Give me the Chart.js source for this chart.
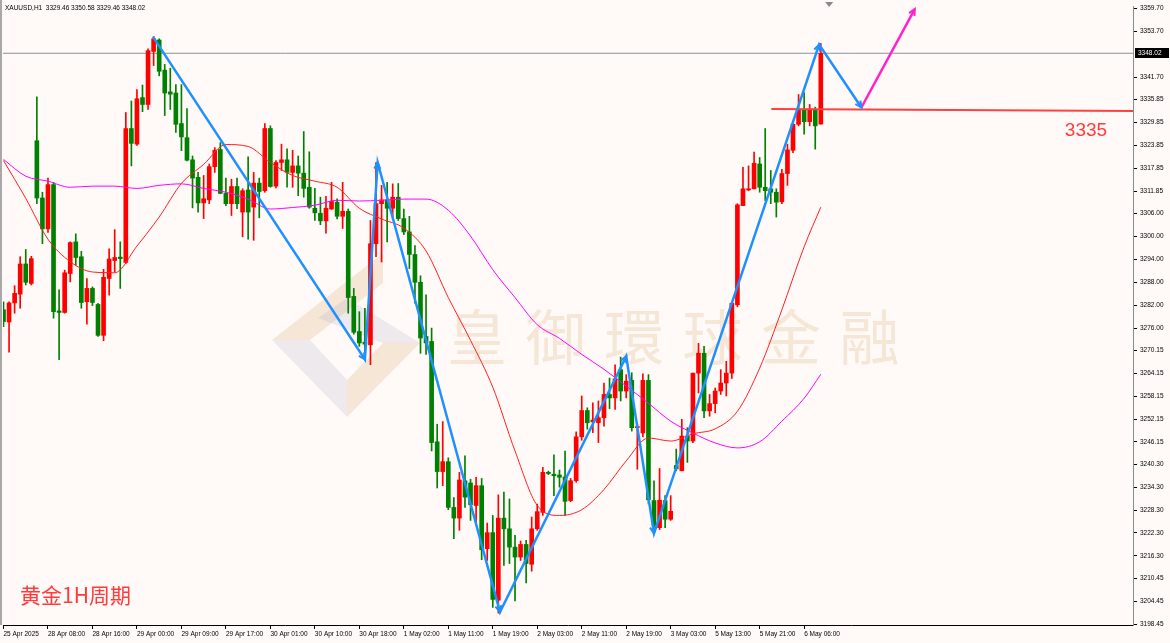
<!DOCTYPE html>
<html>
<head>
<meta charset="utf-8">
<script src="https://cdn.jsdelivr.net/npm/chart.js@4.4.1/dist/chart.umd.min.js"></script>
<style>
  html, body { margin: 0; padding: 0; background: #fffaf8; }
  #wrap { width: 1170px; height: 643px; }
</style>
</head>
<body>
<div id="wrap"><canvas id="xau_chart" width="1170" height="643"></canvas></div>
<script>
// XAUUSD H1, 25 Apr 2025 - 6 May 2025 (red = up bar, green = down bar)
var openP = [
  3280.8, 3277.6, 3282.6, 3284.9, 3292.8, 3287.7, 3325.1, 3310.1, 3302.0, 3313.6,
  3280.5, 3280.1, 3290.3, 3298.6, 3294.7, 3282.9, 3286.4, 3282.2, 3274.1, 3289.0,
  3293.7, 3294.6, 3293.2, 3328.3, 3324.2, 3336.4, 3334.6, 3348.5, 3351.5, 3343.6,
  3337.9, 3337.6, 3329.6, 3325.9, 3320.1, 3315.5, 3308.8, 3309.6, 3318.3, 3322.8,
  3311.3, 3308.6, 3313.1, 3306.4, 3312.2, 3307.7, 3314.0, 3312.0, 3328.3, 3313.2,
  3319.4, 3320.1, 3316.8, 3318.5, 3316.6, 3312.9, 3307.4, 3306.1, 3304.1, 3307.2,
  3309.0, 3305.3, 3306.6, 3284.3, 3275.1, 3272.3, 3271.6, 3298.1, 3308.6, 3309.6,
  3307.4, 3310.3, 3304.7, 3301.2, 3295.3, 3288.0, 3273.8, 3272.5, 3246.2, 3238.4,
  3241.0, 3229.0, 3226.2, 3236.0, 3235.4, 3229.5, 3234.7, 3218.2, 3222.4, 3204.7,
  3226.2, 3223.4, 3218.6, 3216.0, 3219.3, 3214.1, 3223.4, 3227.7, 3238.2, 3237.7,
  3237.5, 3237.0, 3230.8, 3236.0, 3247.5, 3254.4, 3251.4, 3251.2, 3252.5, 3258.6,
  3257.7, 3265.1, 3259.5, 3262.3, 3249.9, 3248.5, 3262.3, 3230.8, 3223.7, 3230.8,
  3225.9, 3240.0, 3238.6, 3247.7, 3246.4, 3264.2, 3269.4, 3254.3, 3256.2, 3259.5,
  3261.6, 3264.2, 3282.1, 3308.1, 3312.2, 3312.5, 3319.0, 3312.9, 3312.5, 3311.6,
  3309.1, 3316.5, 3322.6, 3329.4, 3333.3, 3330.1, 3333.3, 3329.46
];
var highP = [
  3282.9, 3282.9, 3287.1, 3294.7, 3296.6, 3294.8, 3336.6, 3311.6, 3315.3, 3314.2,
  3286.0, 3291.2, 3298.6, 3300.7, 3296.1, 3289.0, 3286.8, 3282.5, 3291.4, 3296.8,
  3301.8, 3298.6, 3332.5, 3335.5, 3338.5, 3339.7, 3349.2, 3352.4, 3351.8, 3345.1,
  3344.1, 3339.8, 3339.8, 3333.5, 3321.1, 3316.8, 3316.0, 3319.0, 3323.3, 3324.6,
  3315.3, 3315.0, 3315.3, 3312.5, 3320.9, 3316.8, 3315.3, 3329.6, 3329.0, 3319.9,
  3324.2, 3323.0, 3322.6, 3321.1, 3327.5, 3322.2, 3312.6, 3310.3, 3310.5, 3314.2,
  3309.9, 3314.2, 3307.2, 3286.4, 3280.3, 3281.2, 3304.2, 3319.4, 3313.4, 3314.2,
  3313.8, 3313.9, 3307.2, 3305.3, 3297.6, 3289.7, 3284.7, 3276.0, 3250.8, 3251.5,
  3242.0, 3231.6, 3238.2, 3242.5, 3236.4, 3236.9, 3236.6, 3224.9, 3226.9, 3232.3,
  3233.0, 3231.2, 3221.7, 3220.2, 3220.4, 3226.5, 3229.9, 3239.5, 3238.5, 3242.8,
  3238.8, 3243.8, 3236.6, 3248.8, 3258.2, 3255.1, 3256.4, 3256.9, 3261.6, 3262.9,
  3266.4, 3268.4, 3263.8, 3264.3, 3250.8, 3264.0, 3263.8, 3236.0, 3239.2, 3232.1,
  3232.1, 3244.3, 3252.1, 3249.9, 3264.2, 3272.0, 3271.2, 3258.6, 3260.3, 3265.1,
  3267.3, 3282.5, 3308.6, 3318.1, 3318.5, 3322.1, 3320.7, 3328.3, 3317.3, 3312.5,
  3317.6, 3324.2, 3329.9, 3337.2, 3337.7, 3334.6, 3333.9, 3350.58
];
var lowP = [
  3276.4, 3269.7, 3279.9, 3281.2, 3287.3, 3287.3, 3308.6, 3298.1, 3301.1, 3278.6,
  3267.7, 3279.9, 3288.1, 3292.5, 3281.2, 3277.0, 3281.9, 3273.8, 3272.7, 3284.6,
  3290.7, 3286.4, 3292.9, 3318.5, 3323.9, 3332.7, 3333.3, 3344.8, 3342.1, 3331.7,
  3333.3, 3327.3, 3322.5, 3319.8, 3307.5, 3306.4, 3304.7, 3308.6, 3316.8, 3311.2,
  3308.1, 3305.5, 3307.3, 3299.9, 3299.3, 3299.0, 3304.9, 3311.6, 3312.9, 3312.7,
  3317.3, 3312.9, 3312.9, 3310.7, 3310.3, 3307.4, 3304.2, 3303.1, 3300.9, 3307.1,
  3304.6, 3302.1, 3279.9, 3274.4, 3271.2, 3267.5, 3266.4, 3294.7, 3293.3, 3298.6,
  3304.8, 3304.2, 3300.5, 3291.6, 3282.5, 3269.4, 3269.1, 3243.8, 3234.1, 3234.7,
  3228.4, 3220.8, 3223.0, 3229.0, 3225.6, 3224.7, 3215.3, 3215.1, 3202.8, 3201.3,
  3213.8, 3214.3, 3204.5, 3215.1, 3209.2, 3212.3, 3223.0, 3226.9, 3237.6, 3232.1,
  3234.3, 3226.9, 3230.5, 3235.6, 3246.6, 3249.5, 3248.6, 3246.0, 3250.3, 3254.9,
  3254.7, 3256.9, 3257.7, 3249.0, 3239.0, 3247.5, 3229.9, 3222.2, 3223.2, 3223.7,
  3225.6, 3238.6, 3238.6, 3240.8, 3246.0, 3259.0, 3252.5, 3252.9, 3253.8, 3258.6,
  3258.2, 3262.8, 3281.6, 3308.1, 3312.0, 3312.5, 3311.6, 3309.4, 3308.6, 3305.1,
  3308.6, 3313.4, 3322.0, 3329.0, 3326.8, 3329.0, 3322.9, 3329.46
];
var closeP = [
  3277.7, 3282.6, 3285.1, 3292.8, 3288.0, 3294.2, 3310.1, 3302.0, 3313.6, 3280.3,
  3280.1, 3290.5, 3298.4, 3294.5, 3282.7, 3286.4, 3282.7, 3274.1, 3289.3, 3294.1,
  3294.5, 3294.2, 3328.3, 3324.4, 3336.1, 3334.6, 3348.7, 3351.8, 3343.3, 3337.6,
  3337.3, 3329.4, 3326.1, 3320.0, 3315.3, 3308.8, 3309.9, 3318.3, 3322.6, 3311.3,
  3308.6, 3313.1, 3308.6, 3312.0, 3306.4, 3314.0, 3311.8, 3328.3, 3313.1, 3319.4,
  3320.1, 3316.8, 3318.5, 3316.6, 3312.6, 3307.7, 3306.2, 3304.1, 3307.4, 3309.2,
  3305.3, 3306.6, 3284.0, 3274.9, 3272.1, 3271.8, 3298.1, 3308.6, 3309.6, 3307.4,
  3310.3, 3304.7, 3301.2, 3295.3, 3288.0, 3273.4, 3272.1, 3246.0, 3238.4, 3241.0,
  3229.0, 3226.2, 3236.2, 3231.7, 3229.7, 3234.7, 3217.9, 3222.4, 3204.9, 3226.2,
  3223.4, 3218.6, 3216.0, 3219.3, 3214.3, 3223.4, 3227.9, 3238.2, 3237.9, 3237.3,
  3236.9, 3230.6, 3236.0, 3247.5, 3254.4, 3251.2, 3251.9, 3252.5, 3258.6, 3257.7,
  3262.7, 3259.5, 3262.1, 3249.9, 3250.2, 3262.3, 3231.0, 3224.3, 3230.9, 3225.9,
  3228.0, 3239.1, 3247.7, 3246.4, 3264.2, 3269.4, 3254.3, 3256.2, 3259.5, 3261.6,
  3264.2, 3282.5, 3308.3, 3312.5, 3312.5, 3319.2, 3312.9, 3312.0, 3311.6, 3309.0,
  3316.5, 3322.7, 3329.4, 3333.3, 3330.1, 3333.3, 3329.0, 3348.02
];

// time axis labels, one every 8 bars
var xTickPos = [0, 8, 16, 24, 32, 40, 48, 56, 64, 72, 80, 88, 96, 104, 112, 120, 128, 136, 144];
var xTickLabels = ["25 Apr 2025", "28 Apr 08:00", "28 Apr 16:00", "29 Apr 00:00", "29 Apr 09:00",
  "29 Apr 17:00", "30 Apr 01:00", "30 Apr 10:00", "30 Apr 18:00", "1 May 02:00", "1 May 11:00",
  "1 May 19:00", "2 May 03:00", "2 May 11:00", "2 May 19:00", "3 May 03:00", "5 May 13:00",
  "5 May 21:00", "6 May 06:00"];

// price axis labels
var yTicks = [3198.45, 3204.45, 3210.45, 3216.30, 3222.30, 3228.30, 3234.30, 3240.30, 3246.15,
  3252.15, 3258.15, 3264.15, 3270.15, 3276.00, 3282.00, 3288.00, 3294.00, 3300.00, 3306.00,
  3311.85, 3317.85, 3323.85, 3329.85, 3335.85, 3341.70, 3353.70, 3359.70];

// moving averages, read every 4 bars
var maIdx = [0, 4, 8, 12, 16, 20, 24, 28, 32, 36, 40, 44, 48, 52, 56, 60, 64, 68, 72, 76,
  80, 84, 88, 92, 96, 100, 104, 108, 112, 116, 120, 124, 128, 132, 136, 140, 144, 147];
var maFast = [3319.9, 3310.0, 3299.3, 3293.4, 3290.7, 3290.5, 3297.5, 3305.1, 3313.9, 3318.9,
  3324.1, 3323.6, 3319.4, 3316.0, 3314.5, 3312.9, 3307.4, 3304.6, 3302.2, 3296.2,
  3284.0, 3272.8, 3260.5, 3243.8, 3229.5, 3226.9, 3228.4, 3233.7, 3241.2, 3247.2,
  3246.4, 3248.3, 3249.6, 3254.2, 3265.5, 3280.8, 3297.3, 3307.7];
var maSlow = [3320.2, 3315.8, 3314.5, 3312.9, 3313.2, 3313.2, 3312.6, 3313.4, 3313.8, 3312.6,
  3311.6, 3309.8, 3307.2, 3307.6, 3308.2, 3309.5, 3309.3, 3309.5, 3309.8, 3309.8,
  3306.9, 3300.1, 3291.3, 3284.0, 3276.9, 3273.3, 3269.1, 3265.2, 3260.8, 3256.3,
  3251.6, 3248.5, 3245.9, 3244.6, 3246.2, 3251.6, 3257.6, 3263.9];

// hand drawn wave lines
var zigIdx = [26.9, 65.0, 67.3, 89.3, 112.0, 117.0, 146.7, 154.3];
var zigPrice = [3352.3, 3267.8, 3319.4, 3201.6, 3268.6, 3222.2, 3350.3, 3333.8];
var upIdx = [154.3, 163.9];
var upPrice = [3333.8, 3359.6];
var levelIdx = [138.1, 203.2];
var levelPrice = [3333.4, 3332.9];

var xMin = -0.09, xMax = 203.15;
var yMin = 3198.19, yMax = 3360.17;
var lastIdx = closeP.length - 1;

function pts(xs, ys) {
  return xs.map(function(x, k) { return {x: x, y: ys[k]}; });
}

var bull = '#ff0000', bear = '#008000';
var barColors = closeP.map(function(c, i) { return c > openP[i] ? bull : bear; });
var wickData = lowP.map(function(l, i) { return {x: i, y: [l, highP[i]]}; });
var bodyData = openP.map(function(o, i) { return {x: i, y: [o, closeP[i]]}; });

var axisFont = {family: 'Liberation Sans', size: 6.5};

function arrowHead(c, x0, y0, x1, y1, color) {
  var a = Math.atan2(y1 - y0, x1 - x0), L = 7;
  c.strokeStyle = color;
  c.lineWidth = 2;
  c.beginPath();
  c.moveTo(x1 - L * Math.cos(a - 0.45), y1 - L * Math.sin(a - 0.45));
  c.lineTo(x1, y1);
  c.lineTo(x1 - L * Math.cos(a + 0.45), y1 - L * Math.sin(a + 0.45));
  c.stroke();
}

var decor = {
  id: 'decor',
  beforeDraw: function(chart) {
    var c = chart.ctx;
    c.save();
    c.fillStyle = '#fffaf8';
    c.fillRect(0, 0, chart.width, chart.height);
    c.restore();
  },
  beforeDatasetsDraw: function(chart) {
    var c = chart.ctx;
    c.save();
    // logo
    var tan = 'rgba(215,170,110,0.25)', gray = 'rgba(185,185,200,0.25)';
    var polys = [
      [tan, [[272, 340], [383, 253], [383, 283], [310, 340]]],
      [gray, [[272, 340], [310, 340], [347, 380], [347, 417]]],
      [tan, [[347, 417], [347, 380], [383, 343], [420, 343]]],
      [gray, [[318, 318], [347, 298], [420, 343], [383, 343]]]
    ];
    polys.forEach(function(p) {
      c.fillStyle = p[0];
      c.beginPath();
      p[1].forEach(function(q, k) { if (k) c.lineTo(q[0], q[1]); else c.moveTo(q[0], q[1]); });
      c.closePath();
      c.fill();
    });
    // watermark text
    c.fillStyle = 'rgba(215,170,110,0.25)';
    c.font = '60px "Noto Sans CJK TC"';
    c.textAlign = 'center';
    c.textBaseline = 'middle';
    var wm = '皇御環球金融';
    for (var k = 0; k < wm.length; k++) c.fillText(wm[k], 477 + k * 78.5, 337);
    c.restore();
  },
  afterDatasetsDraw: function(chart) {
    var c = chart.ctx, xs = chart.scales.x, ys = chart.scales.y;
    c.save();
    var k, x0, y0, x1, y1;
    for (k = 1; k < zigIdx.length; k++) {
      x0 = xs.getPixelForValue(zigIdx[k - 1]); y0 = ys.getPixelForValue(zigPrice[k - 1]);
      x1 = xs.getPixelForValue(zigIdx[k]); y1 = ys.getPixelForValue(zigPrice[k]);
      arrowHead(c, x0, y0, x1, y1, '#1e90ff');
    }
    arrowHead(c, xs.getPixelForValue(upIdx[0]), ys.getPixelForValue(upPrice[0]),
      xs.getPixelForValue(upIdx[1]), ys.getPixelForValue(upPrice[1]), '#ff22cc');

    c.fillStyle = '#ff3b3b';
    c.font = '19px "Liberation Sans"';
    c.textAlign = 'center';
    c.textBaseline = 'middle';
    c.fillText('3335', 1086, 131);

    c.font = '21px "Noto Sans CJK SC"';
    c.textAlign = 'left';
    c.fillText('黄金1H周期', 20, 595);

    c.fillStyle = '#000';
    c.font = '6.5px "Liberation Sans"';
    c.textBaseline = 'middle';
    c.fillText('XAUUSD,H1  ' + openP[lastIdx].toFixed(2) + ' ' + highP[lastIdx].toFixed(2) + ' ' +
      lowP[lastIdx].toFixed(2) + ' ' + closeP[lastIdx].toFixed(2), 5, 8);

    // chart shift marker
    var sx = xs.getPixelForValue(lastIdx + 1.5);
    c.fillStyle = '#8a8a8a';
    c.beginPath();
    c.moveTo(sx - 4, 2); c.lineTo(sx + 4, 2); c.lineTo(sx, 7);
    c.closePath();
    c.fill();
    c.restore();
  },
  afterDraw: function(chart) {
    var c = chart.ctx, ys = chart.scales.y, a = chart.chartArea;
    c.save();
    c.fillStyle = '#a8a8a8';
    c.fillRect(0, 0, 2, a.bottom);
    var py = Math.round(ys.getPixelForValue(closeP[lastIdx]));
    c.fillStyle = '#000';
    c.fillRect(a.right + 2, py - 5, 34, 10);
    c.fillStyle = '#fff';
    c.font = '6.5px "Liberation Sans"';
    c.textAlign = 'left';
    c.textBaseline = 'middle';
    c.fillText(closeP[lastIdx].toFixed(2), a.right + 5, py);
    c.restore();
  }
};

var ctx = document.getElementById('xau_chart');
new Chart(ctx, {
  type: 'bar',
  data: {
    datasets: [
      {
        type: 'line', data: pts(zigIdx, zigPrice), borderColor: '#1e90ff', borderWidth: 2.5,
        pointRadius: 0, tension: 0, order: 0
      },
      {
        type: 'line', data: pts(upIdx, upPrice), borderColor: '#ff22cc', borderWidth: 2.5,
        pointRadius: 0, tension: 0, order: 0
      },
      {
        type: 'line', data: pts(levelIdx, levelPrice), borderColor: '#ff4040', borderWidth: 2,
        pointRadius: 0, tension: 0, order: 1
      },
      {
        type: 'line', data: pts(maIdx, maFast), borderColor: '#ff2020', borderWidth: 1,
        pointRadius: 0, cubicInterpolationMode: 'monotone', order: 3
      },
      {
        type: 'line', data: pts(maIdx, maSlow), borderColor: '#ff00ff', borderWidth: 1,
        pointRadius: 0, cubicInterpolationMode: 'monotone', order: 3
      },
      {
        data: bodyData, backgroundColor: barColors, barThickness: 4, minBarLength: 1,
        grouped: false, order: 5
      },
      {
        data: wickData, backgroundColor: barColors, barThickness: 1,
        grouped: false, order: 6
      },
      {
        type: 'line', data: pts([xMin, xMax], [closeP[lastIdx], closeP[lastIdx]]),
        borderColor: '#8a9099', borderWidth: 1, pointRadius: 0, order: 9
      }
    ]
  },
  options: {
    responsive: false,
    animation: false,
    devicePixelRatio: 1,
    layout: {padding: {left: 3, top: 4, right: 0, bottom: 0}},
    plugins: {legend: {display: false}, tooltip: {enabled: false}},
    scales: {
      x: {
        type: 'linear', min: xMin, max: xMax, offset: false,
        grid: {drawOnChartArea: false, drawTicks: true, tickLength: 4, color: '#000', offset: false},
        border: {color: '#000', width: 1},
        ticks: {
          autoSkip: false, maxRotation: 0, minRotation: 0, align: 'start', padding: 1,
          font: axisFont, color: '#000',
          callback: function(v, i) { return xTickLabels[i]; }
        },
        afterBuildTicks: function(s) { s.ticks = xTickPos.map(function(v) { return {value: v}; }); },
        afterFit: function(s) { s.height = 18; }
      },
      y: {
        type: 'linear', position: 'right', min: yMin, max: yMax,
        grid: {drawOnChartArea: false, drawTicks: true, tickLength: 4, color: '#000'},
        border: {color: '#8c8c8c', width: 1},
        ticks: {
          padding: 3, font: axisFont, color: '#000',
          callback: function(v) { return v.toFixed(2); }
        },
        afterBuildTicks: function(s) { s.ticks = yTicks.map(function(v) { return {value: v}; }); },
        afterFit: function(s) { s.width = 37; }
      }
    }
  },
  plugins: [decor]
});
</script>
</body>
</html>
